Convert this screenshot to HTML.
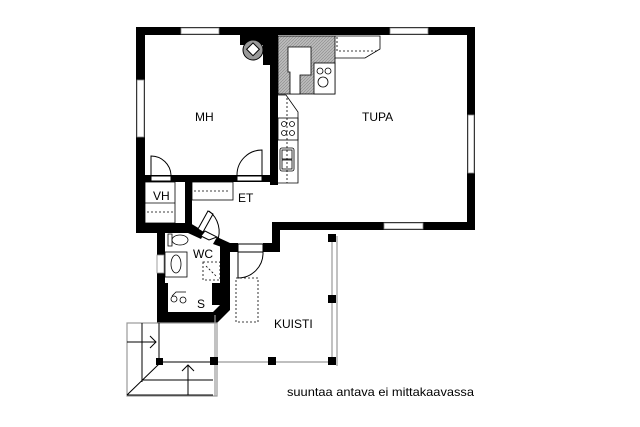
<!DOCTYPE html>
<html><head><style>html,body{margin:0;padding:0;background:#fff;width:640px;height:427px;overflow:hidden}</style></head>
<body>
<svg width="640" height="427" viewBox="0 0 640 427" xmlns="http://www.w3.org/2000/svg" font-family="Liberation Sans, sans-serif">
<defs><pattern id="h" width="3" height="3" patternUnits="userSpaceOnUse"><rect width="3" height="3" fill="#bbb"/><path d="M0 3L3 0" stroke="#888" stroke-width="0.6"/></pattern></defs>
<g fill="#000">
<rect x="136" y="27" width="339" height="8"/>
<rect x="136" y="27" width="9" height="206"/>
<rect x="467" y="27" width="8" height="201"/>
<rect x="272" y="222" width="203" height="8"/>
<rect x="270" y="35" width="8" height="150"/>
<rect x="240" y="35" width="32" height="10"/>
<rect x="263" y="45" width="9" height="20"/>
<rect x="144" y="175" width="128" height="7"/>
<rect x="136" y="223" width="56" height="10"/>
<rect x="185" y="181" width="7" height="45"/>
<rect x="157" y="223" width="8" height="100"/>
<polygon points="157,312 213,312 220,305 220,243 230,243 230,310 217,323 157,323"/>
<rect x="165" y="283" width="3" height="29"/>
<rect x="212" y="283" width="8" height="22"/>
<polygon points="190,223 205,232 201,239 188,233"/>
<polygon points="217,237 230,243 230,250 213,244"/>
<rect x="230" y="243" width="8" height="9"/>
<rect x="272" y="222" width="8" height="30"/>
<rect x="263" y="243" width="17" height="9"/>
</g>
<g fill="#fff" stroke="#888" stroke-width="0.8">
<rect x="181" y="28" width="38" height="6"/>
<rect x="390" y="28" width="38" height="6"/>
<rect x="137" y="80" width="7" height="57"/>
<rect x="468" y="115" width="6" height="58"/>
<rect x="384" y="223" width="39" height="6"/>
<rect x="157" y="255" width="7" height="18"/>
</g>
<g fill="#fff" stroke="#000" stroke-width="1">
<rect x="151" y="176" width="20" height="5"/>
<rect x="237" y="176" width="25" height="5"/>
<path d="M151 175V156A20 20 0 0 1 171 175" fill="none"/>
<path d="M262 175V150A25 25 0 0 0 237 175" fill="none"/>
</g>
<circle cx="253" cy="50" r="10" fill="#999" stroke="#000"/>
<rect x="248" y="45" width="9" height="9" fill="#fff" stroke="#000" transform="rotate(45 253 50)"/>
<rect x="278" y="36" width="57" height="58" fill="url(#h)" stroke="#000" stroke-width="0.8"/>
<path d="M288 47H311V75H300V94H290V72H288Z" fill="#fff" stroke="#000" stroke-width="0.8"/>
<rect x="314" y="63" width="21" height="31" fill="#fff" stroke="#000" stroke-width="0.8"/>
<g fill="none" stroke="#000" stroke-width="0.8">
<circle cx="320" cy="71" r="3"/><circle cx="328" cy="71" r="3"/><circle cx="323" cy="82" r="5"/>
<path d="M335 36H380V49L365 58H335"/>
<path d="M337 37V51H378" stroke-dasharray="2 2"/>
<path d="M278 95H286L298 112V183H278"/>
<path d="M287 98V183" stroke-dasharray="2 2"/>
<rect x="278" y="118" width="20" height="22"/>
<circle cx="284" cy="124" r="2.5"/><circle cx="292" cy="124" r="2.5"/><circle cx="284" cy="133" r="2.5"/><circle cx="292" cy="133" r="2.5"/>
<rect x="280" y="148" width="14" height="23" rx="2"/>
<rect x="282" y="150" width="10" height="9"/>
<rect x="282" y="160" width="10" height="9"/>
</g>
<g fill="none" stroke="#000" stroke-width="0.8">
<rect x="145" y="182" width="30" height="41"/>
<path d="M145 203H175"/>
<path d="M147 212H173" stroke-dasharray="2 2"/>
<rect x="192" y="182" width="41" height="18"/>
<path d="M194 191H230" stroke-dasharray="2 2"/>
</g>
<g fill="none" stroke="#000" stroke-width="1">
<polygon points="201,236 209,240 217,237 205,231" fill="#fff"/>
<polygon points="198,229 203,232 213,214 208,211" fill="#fff"/>
<path d="M209 211A26 26 0 0 1 217 242"/>
<rect x="238" y="244" width="25" height="8" fill="#fff"/>
<path d="M238 252V278A25 25 0 0 0 263 252"/>
</g>
<g fill="none" stroke="#000" stroke-width="0.8">
<path d="M168 234H172V246H168Z"/><ellipse cx="180" cy="240" rx="8" ry="5"/>
<rect x="165" y="252" width="22" height="25"/><ellipse cx="176" cy="264" rx="5" ry="9"/>
<rect x="203" y="262" width="17" height="18" stroke-dasharray="2 2"/>
<path d="M206 266L216 276" stroke-dasharray="2 2"/>
<circle cx="174" cy="299" r="3"/><circle cx="183" cy="300" r="3"/><path d="M172 296L176 292H186"/>
<rect x="236" y="278" width="22" height="44" stroke-dasharray="2 2"/>
</g>
<g fill="none" stroke="#999" stroke-width="1.2">
<path d="M332 236V362H217"/><path d="M337 236V366"/>
<path d="M215 315V396"/>
<rect x="127" y="323" width="90" height="73"/>
</g>
<g fill="#000">
<rect x="328" y="234" width="8" height="8"/>
<rect x="328" y="295" width="8" height="8"/>
<rect x="328" y="357" width="8" height="8"/>
<rect x="268" y="357" width="8" height="8"/>
<rect x="210" y="357" width="8" height="8"/>
<rect x="156" y="358" width="7" height="7"/>
</g>
<g fill="none" stroke="#000" stroke-width="1">
<path d="M159 323V362H213"/>
<path d="M142 323V382"/>
<path d="M127 395H213"/>
<path d="M142 380H213"/>
<path d="M127 395L159 364"/>
<path d="M127 342H156M150 336L156 342L150 348"/>
<path d="M188 395V365M182 371L188 365L194 371"/>
</g>
<g font-size="12" fill="#000">
<text x="195" y="121">MH</text>
<text x="362" y="121">TUPA</text>
<text x="238" y="202">ET</text>
<text x="153" y="200">VH</text>
<text x="193" y="258">WC</text>
<text x="197" y="308">S</text>
<text x="274" y="328">KUISTI</text>
<text x="287" y="396" font-size="12" textLength="187" lengthAdjust="spacingAndGlyphs">suuntaa antava ei mittakaavassa</text>
</g>
</svg>
</body></html>
